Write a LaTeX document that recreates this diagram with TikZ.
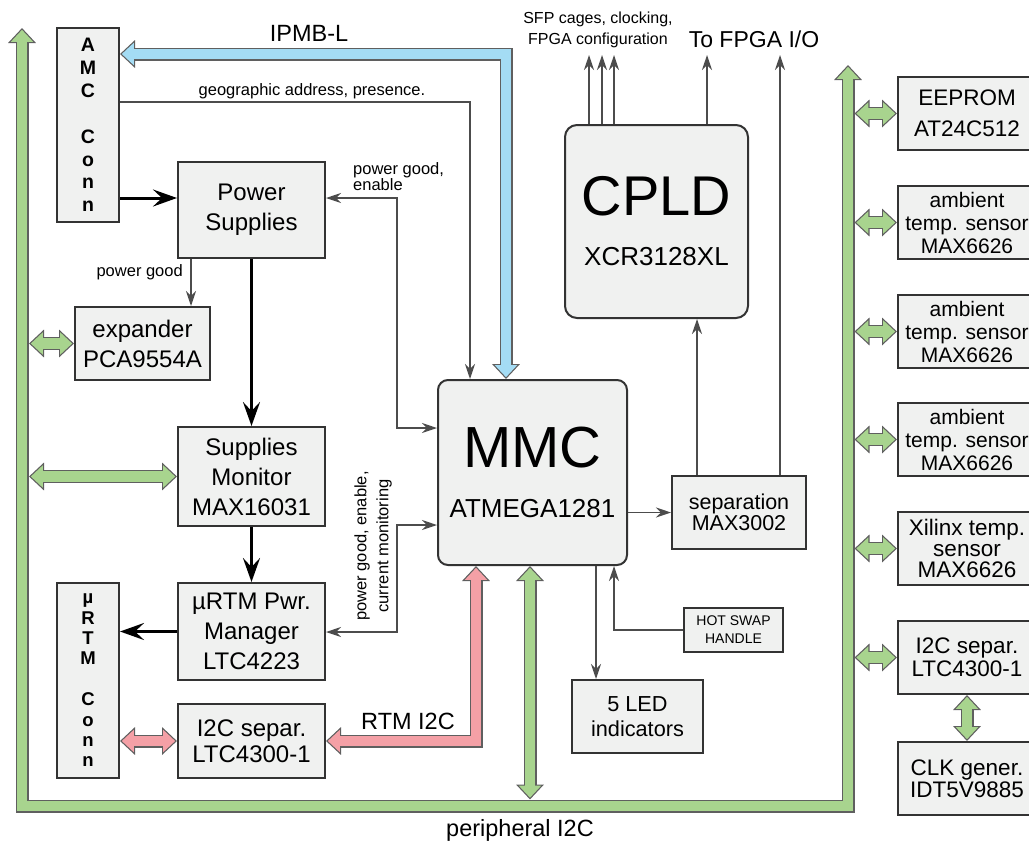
\documentclass[tikz,border=0pt]{standalone}
\usepackage{fontspec}
\setmainfont{Liberation Sans}
\usetikzlibrary{arrows.meta}

\definecolor{boxgray}{RGB}{240,241,240}
\definecolor{busgreen}{RGB}{168,212,142}
\definecolor{ipmbblue}{RGB}{164,220,244}
\definecolor{rtmred}{RGB}{244,160,166}
\definecolor{edgegray}{RGB}{95,95,95}

\tikzset{
  blk/.style={draw=black!80, line width=2pt, fill=boxgray, align=center, inner sep=0pt,
    font=\fontsize{24}{30}\selectfont},
  dev/.style={blk, minimum width=138pt, minimum height=73pt, font=\fontsize{22.5}{23}\selectfont},
  conn/.style={blk, minimum width=62pt, font=\bfseries\fontsize{19.5}{22.9}\selectfont},
  sig/.style={line width=1.3pt, draw=black!70, ->},
  power/.style={line width=3pt, -{Stealth[length=24pt,width=17pt,inset=9pt]}},
  fatout/.style={line width=13pt, draw=edgegray, line join=miter,
    {Triangle[length=15pt,width=27pt]}-{Triangle[length=15pt,width=27pt]}},
  fatin/.style={line width=10.4pt, draw=#1, line join=miter,
    {Triangle[length=12pt,width=21.6pt]}-{Triangle[length=12pt,width=21.6pt]},
    shorten >=1.8pt, shorten <=1.8pt},
  lbl/.style={inner sep=0pt, font=\fontsize{23.5}{28}\selectfont},
  note/.style={inner sep=0pt, align=center, font=\fontsize{16.5}{18}\selectfont},
}
\newcommand{\fatlink}[2]{\draw[fatout] #2; \draw[fatin=#1] #2;}

\begin{document}
\begin{tikzpicture}[x=1pt, y=-1pt, >={Stealth[length=15pt,width=10pt,inset=5pt]}]
  \useasboundingbox (0,0) rectangle (1029,844);

  % --- left column ---
  \node[conn, minimum height=194pt] (amc) at (88,125) {A\\M\\C\\~\\C\\o\\n\\n};
  \node[blk, minimum width=147pt, minimum height=96pt] (ps) at (251.5,210) {Power\\Supplies};
  \node[blk, minimum width=135pt, minimum height=73pt] (exp) at (142.5,343.5) {expander\\PCA9554A};
  \node[blk, minimum width=147pt, minimum height=99pt] (mon) at (251.5,476.5) {Supplies\\Monitor\\MAX16031};
  \node[blk, minimum width=147pt, minimum height=97pt] (pwr) at (251.5,631.5) {µRTM Pwr.\\Manager\\LTC4223};
  \node[blk, minimum width=147pt, minimum height=74pt, font=\fontsize{24}{26}\selectfont] (sepl) at (251.5,741) {I2C separ.\\LTC4300-1};
  \node[conn, minimum height=195pt, font=\bfseries\fontsize{18.5}{20.4}\selectfont] (rtm) at (88,680.5) {µ\\R\\T\\M\\~\\C\\o\\n\\n};

  % --- MMC, CPLD and helpers ---
  \node[blk, rounded corners=10pt, minimum width=189pt, minimum height=185pt,
    font=\fontsize{26}{30}\selectfont] (mmc) at (532.5,472.5) {{\fontsize{58}{58}\selectfont MMC}\\[20pt]ATMEGA1281};
  \node[blk, rounded corners=12pt, minimum width=183pt, minimum height=193pt,
    font=\fontsize{26}{30}\selectfont] (cpld) at (656.5,221.5) {{\fontsize{56}{56}\selectfont CPLD}\\[20pt]XCR3128XL};
  \node[blk, minimum width=134pt, minimum height=73pt, font=\fontsize{21.5}{21}\selectfont] (sep) at (739,512.5) {separation\\MAX3002};
  \node[blk, minimum width=99pt, minimum height=44pt, font=\fontsize{14}{18}\selectfont] (hot) at (733.5,630) {HOT SWAP\\HANDLE};
  \node[blk, minimum width=131pt, minimum height=73pt, font=\fontsize{21.7}{25}\selectfont] (led) at (637.5,716.5) {5 LED\\indicators};

  % --- right column ---
  \node[dev, font=\fontsize{22.5}{31}\selectfont] (eeprom) at (967,113.5) {EEPROM\\AT24C512};
  \node[dev, font=\fontsize{21}{23}\selectfont] (amb1) at (967,222.5) {ambient\\temp. sensor\\MAX6626};
  \node[dev, font=\fontsize{21}{23}\selectfont] (amb2) at (967,331.5) {ambient\\temp. sensor\\MAX6626};
  \node[dev, font=\fontsize{21}{23}\selectfont] (amb3) at (967,439.5) {ambient\\temp. sensor\\MAX6626};
  \node[dev, font=\fontsize{22.5}{21}\selectfont] (xil) at (967,548.5) {Xilinx temp.\\sensor\\MAX6626};
  \node[dev, font=\fontsize{22.5}{23}\selectfont] (sepr) at (967,657.5) {I2C separ.\\LTC4300-1};
  \node[dev, font=\fontsize{22.5}{22}\selectfont] (clk) at (967,778.5) {CLK gener.\\IDT5V9885};

  % --- peripheral I2C bus ---
  \coordinate (busLtip) at (22,28);
  \coordinate (busLcorner) at (22,806);
  \coordinate (busRcorner) at (848,806);
  \coordinate (busRtip) at (848,65);
  \coordinate (busLedge) at (29,0);
  \coordinate (busRedge) at (854.5,0);
  \coordinate (mmcbus) at (530,799.5);
  \fatlink{busgreen}{(busLtip) -- (busLcorner) -- (busRcorner) -- (busRtip)}
  \fatlink{busgreen}{(exp.west -| busLedge) -- (exp.west)}
  \fatlink{busgreen}{(mon.west -| busLedge) -- (mon.west)}
  \fatlink{busgreen}{(eeprom.west -| busRedge) -- (eeprom.west)}
  \fatlink{busgreen}{(amb1.west -| busRedge) -- (amb1.west)}
  \fatlink{busgreen}{(amb2.west -| busRedge) -- (amb2.west)}
  \fatlink{busgreen}{(amb3.west -| busRedge) -- (amb3.west)}
  \fatlink{busgreen}{(xil.west -| busRedge) -- (xil.west)}
  \fatlink{busgreen}{(sepr.west -| busRedge) -- (sepr.west)}
  \fatlink{busgreen}{(sepr.south) -- (clk.north)}
  \fatlink{busgreen}{(mmc.south -| mmcbus) -- (mmcbus)}

  % --- IPMB-L and RTM I2C ---
  \coordinate (ipmb) at (506,54);
  \fatlink{ipmbblue}{(amc.east |- ipmb) -- (ipmb) -- (mmc.north -| ipmb)}
  \coordinate (rtmi2c) at (476,741);
  \fatlink{rtmred}{(mmc.south -| rtmi2c) -- (rtmi2c) -- (sepl.east |- rtmi2c)}
  \fatlink{rtmred}{(rtm.east |- sepl.west) -- (sepl.west)}

  % --- power path ---
  \coordinate (pgA) at (397,198);
  \draw[power] (amc.east |- pgA) -- (ps.west |- pgA);
  \draw[power] (ps.south) -- (mon.north);
  \draw[power] (mon.south) -- (pwr.north);
  \draw[power] (pwr.west) -- (rtm.east |- pwr.west);

  % --- control signals ---
  \coordinate (geo) at (470,102);
  \draw[sig] (amc.east |- geo) -- (geo) -- (mmc.north -| geo);
  \coordinate (pgB) at (397,428);
  \draw[sig, <->] (ps.east |- pgA) -- (pgA) -- (pgB) -- (mmc.west |- pgB);
  \coordinate (pcA) at (397,525);
  \coordinate (pcB) at (397,632);
  \draw[sig, <->] (mmc.west |- pcA) -- (pcA) -- (pcB) -- (pwr.east |- pcB);
  \coordinate (pgd) at (191,280);
  \draw[sig] (ps.south -| pgd) -- (exp.north -| pgd);
  \draw[sig] (mmc.east |- sep.west) -- (sep.west);
  \coordinate (cp) at (697,400);
  \draw[sig] (sep.north -| cp) -- (cpld.south -| cp);
  \coordinate (fpgaR) at (780,55);
  \draw[sig] (sep.north -| fpgaR) -- (fpgaR);
  \coordinate (fpgaL) at (707,55);
  \draw[sig] (cpld.north -| fpgaL) -- (fpgaL);
  \foreach \x in {589,602,614} {
    \coordinate (sfp) at (\x,55);
    \draw[sig] (cpld.north -| sfp) -- (sfp);
  }
  \coordinate (ledx) at (596,0);
  \draw[sig] (mmc.south -| ledx) -- (led.north -| ledx);
  \coordinate (hsw) at (614,630);
  \draw[sig] (hot.west) -- (hsw) -- (mmc.south -| hsw);

  % --- labels ---
  \node[lbl] (ipmblbl) at (309,33) {IPMB-L};
  \node[note] (geolbl) at (312,91) {geographic address, presence.};
  \node[note, align=left, anchor=west, font=\fontsize{16.5}{16}\selectfont] (pglbl) at (353,177) {power good,\\enable};
  \node[note, anchor=east] (pgdlbl) at (183,272) {power good};
  \node[note, rotate=90, font=\fontsize{16.5}{22}\selectfont] (pclbl) at (373,546) {power good, enable,\\current monitoring};
  \node[lbl] (rtmlbl) at (408,721) {RTM I2C};
  \node[lbl] (perlbl) at (520,830) {peripheral I2C};
  \node[note, font=\fontsize{16}{21}\selectfont] (sfplbl) at (598,30) {SFP cages, clocking,\\FPGA configuration};
  \node[lbl, font=\fontsize{23}{28}\selectfont] (fiolbl) at (754,39) {To FPGA I/O};
\end{tikzpicture}
\end{document}
